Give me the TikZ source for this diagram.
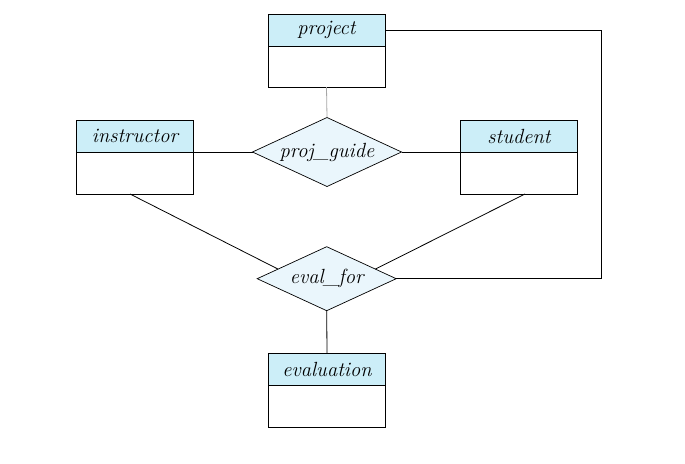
\documentclass[tikz,border=0pt]{standalone}
\usetikzlibrary{shapes.geometric,calc}
\definecolor{hdr}{HTML}{CCEEF8}
\definecolor{relc}{HTML}{EAF6FC}
\begin{document}
\begin{tikzpicture}[x=1pt,y=-1pt,
  lbl/.style={font=\fontsize{20.5}{24}\selectfont\itshape},
  ehead/.style={draw=black,line width=0.9pt,fill=hdr,minimum width=117pt,minimum height=32pt,inner sep=0pt,outer sep=0pt,lbl},
  ebody/.style={draw=black,line width=0.9pt,fill=white,minimum width=117pt,minimum height=42pt,inner sep=0pt,outer sep=0pt},
  relbox/.style={diamond,aspect=2.6,draw=black,line width=0.7pt,fill=relc,inner sep=0pt,outer sep=0pt,lbl},
  conn/.style={line width=0.8pt,black}]
\useasboundingbox (0,0) rectangle (685,463);
% entities
\node[ehead] (projh) at (326.5,30) {project};
\node[ebody,minimum height=41pt,anchor=north] (projb) at (projh.south) {};
\node[ehead] (insth) at (135,136) {instructor};
\node[ebody,anchor=north] (instb) at (insth.south) {};
\node[ehead] (studh) at (519,136) {student};
\node[ebody,anchor=north] (studb) at (studh.south) {};
\node[ehead] (evalh) at (327,369.3) {evaluation};
\node[ebody,anchor=north] (evalb) at (evalh.south) {};
% relationships
\node[relbox,minimum width=149pt,minimum height=69pt] (pg) at (327,152) {proj\textunderscore guide};
\node[relbox,minimum width=139pt,minimum height=64pt] (ef) at (326.7,278.7) {eval\textunderscore for};
% connectors
\draw[conn,gray!70] (projb.south) -- (pg.north);
\draw[conn] (insth.south east) -- (pg.west);
\draw[conn] (pg.east) -- (studh.south west);
\draw[conn] ($(instb.south)+(-5,0)$) -- ($(ef.west)!0.3!(ef.north)$);
\draw[conn] ($(studb.south)+(6,0)$) -- ($(ef.north)!0.7!(ef.east)$);
\draw[conn] (ef.south) -- (evalh.north);
\coordinate (corner) at (601.5,0);
\draw[conn] (projh.east) -- (projh.east -| corner) |- (ef.east);
\end{tikzpicture}
\end{document}
